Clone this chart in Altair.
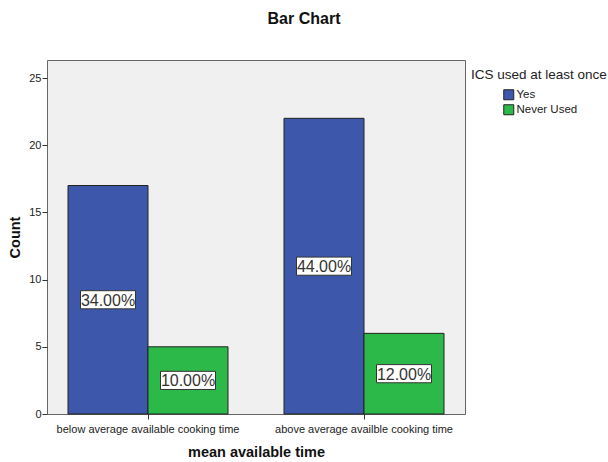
import altair as alt
import pandas as pd

# Counts per cooking-time group and ICS use
groups = ["below average available cooking time", "above average availble cooking time"]
ics_levels = ["Yes", "Never Used"]
yes_counts = [17, 22]
never_counts = [5, 6]
bar_colors = ["#3d58ab", "#2db84a"]

rows = []
for g, y_c, n_c in zip(groups, yes_counts, never_counts):
    rows.append({"group": g, "ics": ics_levels[0], "count": y_c})
    rows.append({"group": g, "ics": ics_levels[1], "count": n_c})
df = pd.DataFrame(rows)

FONT = "Liberation Sans"

base = alt.Chart(df).transform_joinaggregate(
    total="sum(count)"
).transform_calculate(
    pct="datum.count / datum.total",
    mid="datum.count / 2",
)

x_enc = alt.X(
    "group:N",
    sort=groups,
    scale=alt.Scale(range=[-7, 425], paddingInner=0, paddingOuter=0),
    axis=alt.Axis(
        title="mean available time",
        labelAngle=0,
        labelLimit=0,
        domain=False,
        tickSize=5,
        tickColor="#333",
        labelPadding=4,
        labelFontSize=11,
        labelColor="#222",
        labelFont=FONT,
        titleFont=FONT,
        titleFontSize=14.5,
        titleFontWeight="bold",
        titleColor="#111",
        titleX=209,
        titleY=38,
        titleBaseline="middle",
        titleAlign="center",
    ),
)
xoff_enc = alt.XOffset(
    "ics:N", sort=ics_levels, scale=alt.Scale(paddingInner=0, paddingOuter=0.35)
)
y_scale = alt.Scale(domain=[0, 26.34], nice=False, zero=True)

bars = base.mark_bar(stroke="#222", strokeWidth=1, opacity=1).encode(
    x=x_enc,
    xOffset=xoff_enc,
    y=alt.Y(
        "count:Q",
        scale=y_scale,
        axis=alt.Axis(
            title="Count",
            values=[0, 5, 10, 15, 20, 25],
            grid=False,
            domain=False,
            tickSize=5,
            tickColor="#333",
            labelPadding=1,
            labelFontSize=11,
            labelColor="#222",
            labelFont=FONT,
            titleFont=FONT,
            titleFontSize=14.5,
            titleFontWeight="bold",
            titleColor="#111",
            titleX=-32,
            titleY=177,
            titleAngle=270,
            titleBaseline="middle",
            titleAlign="center",
        ),
    ),
    color=alt.Color(
        "ics:N",
        sort=ics_levels,
        scale=alt.Scale(domain=ics_levels, range=bar_colors),
        legend=alt.Legend(
            title=None,
            orient="none",
            legendX=456,
            legendY=29,
            padding=0,
            symbolType="square",
            symbolSize=100,
            symbolStrokeColor="#222",
            symbolStrokeWidth=1,
            symbolOpacity=1,
            labelFont=FONT,
            labelFontSize=11.5,
            labelColor="#222",
            labelOffset=2,
            rowPadding=0,
        ),
    ),
)

# White label boxes behind the percentages
boxes = base.mark_point(
    shape="M-1,-0.33H1V0.33H-1Z",
    size=3025,
    filled=True,
    fill="white",
    stroke="#333",
    strokeWidth=1,
    opacity=1,
).encode(
    x=alt.X("group:N", sort=groups),
    xOffset=alt.XOffset("ics:N", sort=ics_levels),
    y=alt.Y("mid:Q", scale=y_scale),
)

labels = base.mark_text(
    font=FONT, fontSize=16, color="#333", baseline="middle", dy=1
).encode(
    x=alt.X("group:N", sort=groups),
    xOffset=alt.XOffset("ics:N", sort=ics_levels),
    y=alt.Y("mid:Q", scale=y_scale),
    text=alt.Text("pct:Q", format=".2%"),
)

legend_title = alt.Chart(pd.DataFrame({"t": ["ICS used at least once"]})).mark_text(
    font=FONT, fontSize=13.5, color="#222", align="left", baseline="middle"
).encode(x=alt.value(424), y=alt.value(15), text="t:N")

chart = alt.layer(bars, boxes, labels, legend_title).properties(
    width=418,
    height=354,
    background="white",
    autosize=alt.AutoSizeParams(type="none"),
    padding={"left": 47, "top": 60, "right": 143, "bottom": 48},
    title=alt.TitleParams(
        "Bar Chart",
        font=FONT,
        fontSize=16,
        fontWeight="bold",
        color="#111",
        anchor="middle",
        dx=48,
        offset=33,
    ),
).configure_view(fill="#f0f0f0", stroke="#666", strokeWidth=1)

chart.save("out.html", embed_options={"renderer": "svg", "actions": False})
